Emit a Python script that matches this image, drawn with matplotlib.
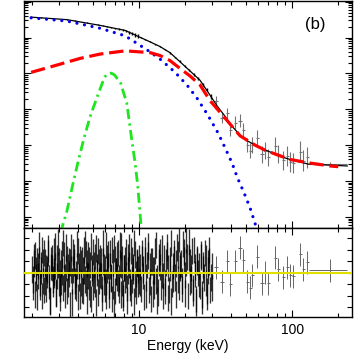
import numpy as np
import matplotlib
matplotlib.use("Agg")
import matplotlib.pyplot as plt
from matplotlib.ticker import LogLocator, NullFormatter, FixedLocator, FixedFormatter

plt.rcParams['font.family'] = ['Liberation Sans', 'DejaVu Sans']

# ---------------- model components (log10 of flux) ----------------
E_tot = [1.97, 3.38, 5.56, 8.1, 10.0, 11.8, 13.7, 15.9, 17.2, 19.0, 21.5, 25.0, 29.1,
         32.5, 36.5, 40.0, 45.7, 51.0, 57.3, 64.0, 71.8, 83.0, 97.0, 110, 128, 229]
L_tot = [-0.43, -0.50, -0.66, -0.80, -0.98, -1.12, -1.25, -1.42, -1.55, -1.72, -1.93, -2.19, -2.61,
         -2.92, -3.20, -3.45, -3.72, -3.88, -4.00, -4.10, -4.19, -4.31, -4.40, -4.46, -4.53, -4.58]

E_blue = [1.97, 3.38, 5.56, 8.1, 10.0, 11.8, 13.7, 15.9, 17.2, 20.6, 23.9, 28.2, 32.8, 36.5,
          40.5, 43.7, 48.5, 53.1, 57.3, 60.0]
L_blue = [-0.45, -0.54, -0.74, -0.95, -1.20, -1.40, -1.60, -1.84, -1.97, -2.33, -2.69, -3.17,
          -3.66, -4.08, -4.50, -4.89, -5.33, -5.75, -6.19, -6.50]

E_red = [1.97, 2.83, 4.12, 5.56, 8.1, 11.8, 13.7, 15.9, 18.5, 21.5, 25.0, 29.1, 36.5, 45.7,
         57.3, 66.5, 80.0, 97.0, 131, 177, 200]
L_red = [-1.97, -1.78, -1.58, -1.46, -1.37, -1.42, -1.50, -1.64, -1.86, -2.07, -2.32, -2.76,
         -3.25, -3.74, -4.00, -4.14, -4.27, -4.40, -4.50, -4.58, -4.60]

E_gau = [3.10, 3.15, 3.37, 3.66, 3.97, 4.33, 4.78, 5.42, 5.95, 6.2, 6.56, 6.9, 7.6, 7.89,
         8.31, 8.96, 9.42, 9.81, 10.26, 10.35]
L_gau = [-6.45, -6.27, -5.85, -5.16, -4.51, -3.86, -3.21, -2.56, -2.10, -2.02, -1.99, -2.04,
         -2.28, -2.52, -2.83, -3.86, -4.50, -5.16, -6.17, -6.45]

# ---------------- spectrum data, top panel ----------------
E_d1 = [2.0, 2.3, 2.6, 3.0, 3.4, 3.8, 4.2, 4.6, 5.0, 5.4, 5.8, 6.2, 6.6, 7.0, 7.4, 7.8,
        8.2, 8.6, 9.0, 9.4, 9.8]
L_d1 = [-0.43, -0.44, -0.46, -0.48, -0.50, -0.53, -0.56, -0.585, -0.62, -0.645, -0.675, -0.70,
        -0.715, -0.745, -0.755, -0.785, -0.805, -0.855, -0.885, -0.93, -0.955]
e_d1 = [0.006, 0.006, 0.006, 0.007, 0.007, 0.008, 0.008, 0.009, 0.01, 0.011, 0.012, 0.014,
        0.016, 0.018, 0.02, 0.024, 0.028, 0.034, 0.04, 0.05, 0.06]

E_d2 = [10.3, 11.0, 11.8, 12.7, 13.7, 14.8, 16.0, 17.2, 18.5, 19.8, 21.2, 22.7, 24.3, 26.0,
        27.8, 29.5]
L_d2 = [-0.99, -1.055, -1.115, -1.185, -1.245, -1.335, -1.425, -1.56, -1.66, -1.80, -1.90,
        -2.03, -2.13, -2.30, -2.45, -2.64]
e_d2 = [0.01, 0.01, 0.012, 0.012, 0.015, 0.015, 0.02, 0.02, 0.025, 0.025, 0.03, 0.035, 0.04,
        0.045, 0.05, 0.06]

E_sp = [31.8, 34.9, 37.6, 39.3, 42.4, 45.7, 47.9, 50.8, 53.1, 54.8, 59.1, 63.6, 66.6, 69.7,
        77.4, 81.0, 87.3, 92.7, 97.0, 101.6, 112.8, 118.0, 125.3, 177.0]
dE_lo = [0.8, 0.9, 0.9, 0.9, 1.0, 1.1, 1.1, 1.2, 1.2, 1.3, 1.4, 1.5, 1.5, 1.6, 1.8, 1.9, 2.0,
         2.2, 2.3, 2.4, 2.7, 2.8, 3.0, 49.0]
dE_hi = [0.8, 0.9, 0.9, 0.9, 1.0, 1.1, 1.1, 1.2, 1.2, 1.3, 1.4, 1.5, 1.5, 1.6, 1.8, 1.9, 2.0,
         2.2, 2.3, 2.4, 2.7, 2.8, 3.0, 52.0]
L_sp = [-2.76, -3.24, -3.11, -3.57, -3.37, -3.32, -3.58, -4.00, -4.15, -4.00, -3.79, -4.26,
        -4.15, -4.34, -4.02, -4.24, -4.42, -4.30, -4.46, -4.49, -4.18, -4.43, -4.34, -4.53]
e_sp = [0.12, 0.15, 0.15, 0.17, 0.17, 0.18, 0.2, 0.2, 0.22, 0.22, 0.22, 0.24, 0.24, 0.24,
        0.25, 0.25, 0.26, 0.28, 0.28, 0.28, 0.3, 0.3, 0.3, 0.05]
r_sp = [0.5, -0.8, 1.0, -1.0, 1.0, 2.2, 1.1, -0.8, -1.3, -0.2, 1.4, -0.9, 0.0, -0.9, 1.3, 0.3,
        -0.4, 0.5, -0.2, -0.3, 1.6, 0.3, 0.9, 0.2]

# ---------------- residuals of the dense channels (two data sets) ----------------
r_lo = [0.3, -1.2, 0.8, 1.5, -0.4, -2.1, 0.6, 1.1, -0.9, 0.2,
        2.0, -0.7, -1.5, 0.9, 0.4, -0.2, 1.7, -1.1, -2.4, 0.5,
        1.3, -0.6, 0.1, 2.3, -1.8, -0.3, 0.7, 1.0, -1.4, 0.0,
        -0.8, 1.6, 2.6, -0.5, -1.9, 0.4, 1.2, -1.0, -0.1, 0.9,
        2.2, -2.6, 0.3, 1.4, -0.7, -1.3, 0.6, 1.9, -0.4, -2.0,
        0.8, 1.1, -1.6, 0.2, 2.5, -0.9, -0.2, 1.5, -1.2, 0.7,
        -2.3, 0.4, 1.8, -0.6, -1.0, 2.1, 0.0, -1.7, 0.9, 1.3,
        -0.3, -2.2, 1.0, 0.5, -1.4, 2.4, -0.8, 0.3, 1.6, -1.9,
        0.6, -0.5, 2.0, -1.1, -2.7, 1.2, 0.1, -0.4, 1.7, -1.5,
        0.8, 2.3, -0.9, -1.8, 0.4, 1.1, -0.2, -2.4, 1.4, 0.7,
        -1.3, 1.9, -0.6, 0.2, 2.6, -1.0, -1.6, 0.9, 0.3, -0.7]
r_lo2 = [-0.6, 1.4, -1.9, 0.2, 1.0, -0.3, 2.4, -1.2, 0.7, -2.0,
         0.9, 1.7, -0.8, -1.4, 0.3, 2.1, -0.5, -2.5, 1.1, 0.4,
         -1.0, 1.9, -0.2, 0.6, -1.7, 1.3, 2.7, -0.9, -2.2, 0.8,
         0.1, -1.3, 1.5, -0.4, 2.2, -1.6, 0.5, 1.0, -2.8, 0.3,
         -0.7, 1.8, 0.9, -1.1, -0.1, 2.5, -2.1, 0.6, 1.2, -0.9,
         -1.5, 0.2, 2.0, -0.6, 1.6, -2.4, 0.8, -0.3, 1.1, -1.8,
         2.3, 0.0, -1.2, 0.7, 1.4, -2.6, 0.5, 1.9, -0.7, -0.2,
         1.0, -1.4, 2.6, -0.8, 0.3, -2.0, 1.3, 0.6, -1.1, 1.7,
         -0.4, -2.3, 0.9, 2.1, -1.6, 0.1, 1.5, -0.9, -0.5, 2.4,
         -1.9, 0.7, 1.2, -2.2, 0.4, -0.6, 1.8, -1.3, 0.2, 2.2,
         -0.8, -1.7, 1.1, 0.5, -2.5, 1.6, -0.1, 0.8, -1.0, 1.3]
r_hi = [0.5, -1.4, 1.2, -0.3, 2.0, -1.9, 0.7, 1.5, -0.8, -2.3,
        1.0, 0.2, -1.1, 2.4, -0.5, -1.7, 0.9, 1.8, -0.2, -2.0,
        1.3, -0.9, 2.2, 0.4, -1.5, 1.1, -2.5, 0.6, 1.7, -0.4,
        0.8, 1.6, -1.2, 0.4, 0.8, -0.7, 1.1, -1.8, 2.9, 1.4,
        2.7, 0.9, -0.6, 1.9, -1.3, 0.5, -2.6, 1.2, 0.0, -1.0,
        1.6, -1.9, 0.7, -0.4, 1.3, -2.1, 0.2, 1.0, -1.5, 0.6]
r_hi2 = [-0.9, 1.7, 0.3, -2.1, 1.1, -0.4, 2.3, -1.5, 0.6, 1.0,
         -1.8, 0.2, 1.9, -0.7, -2.4, 1.4, 0.5, -1.2, 2.1, -0.3,
         -1.6, 0.9, 1.5, -2.2, 0.4, 2.6, -1.0, -0.5, 1.2, -1.9,
         2.2, -0.6, 3.0, 0.7, -1.4, 2.5, 1.8, -0.2, 0.9, -2.0,
         1.3, -0.8, 0.4, -1.7, 2.0, -0.1, -2.3, 1.0, 0.6, -1.1,
         1.4, -2.4, 0.3, 1.7, -0.9, -1.6, 0.8, 2.0, -0.4, -1.3]
# channel grids of the instruments (keV)
E_lo = np.geomspace(2.0, 9.95, len(r_lo))
E_lo2 = np.geomspace(2.03, 9.98, len(r_lo2))
E_hi = np.geomspace(10.1, 29.8, len(r_hi))
E_hi2 = np.geomspace(10.2, 29.9, len(r_hi2))

# ---------------- figure ----------------
fig = plt.figure(figsize=(3.55, 3.54), dpi=100)
L, R = 24 / 355, 352 / 355
ax1 = fig.add_axes([L, 1 - 228 / 354, R - L, (228 - 1) / 354])
ax2 = fig.add_axes([L, 1 - 317 / 354, R - L, (317 - 228) / 354], sharex=ax1)

p = lambda a: 10 ** np.asarray(a, dtype=float)

# data (top)
for E, Lv, ev in [(E_d1, L_d1, e_d1), (E_d2, L_d2, e_d2)]:
    Lv = np.asarray(Lv); ev = np.asarray(ev)
    y = p(Lv)
    ax1.errorbar(E, y, yerr=[y - p(Lv - ev), p(Lv + ev) - y], fmt='none',
                 ecolor='black', elinewidth=1.0, zorder=3)
Ls = np.asarray(L_sp); es = np.asarray(e_sp); ys = p(Ls)
ax1.errorbar(E_sp, ys, xerr=[dE_lo, dE_hi], yerr=[ys - p(Ls - es), p(Ls + es) - ys],
             fmt='none', ecolor='0.45', elinewidth=0.8, zorder=3)

# model curves
ax1.plot(E_tot, p(L_tot), color='black', lw=0.9, zorder=4)
ax1.plot(E_blue, p(L_blue), color='#0000ee', lw=2.3, linestyle=(0, (0.01, 2.4)),
         dash_capstyle='round', zorder=5)
ax1.plot(E_red, p(L_red), color='#ff0000', lw=2.3, linestyle=(0, (4.5, 1.8)), zorder=5)
ax1.plot(E_gau, p(L_gau), color='#1ee61e', lw=2.0, linestyle=(0, (3.6, 1.6, 0.8, 1.6)), zorder=5)

ax1.set_xscale('log')
ax1.set_yscale('log')
ax1.set_xlim(1.77, 246)
ax1.set_ylim(10 ** -6.31, 10 ** 0.02)
ax1.yaxis.set_major_locator(LogLocator(base=10, numticks=20))
ax1.yaxis.set_minor_locator(LogLocator(base=10, subs=np.arange(2, 10), numticks=20))
ax1.yaxis.set_major_formatter(NullFormatter())
ax1.yaxis.set_minor_formatter(NullFormatter())
ax1.text(0.887, 0.895, '(b)', transform=ax1.transAxes, fontsize=12,
         ha='center', va='center')
plt.setp(ax1.get_xticklabels(which='both'), visible=False)

# residuals
for E, r in [(E_lo, r_lo), (E_lo2, r_lo2), (E_hi, r_hi), (E_hi2, r_hi2)]:
    ax2.errorbar(E, r, yerr=1.15, fmt='none', ecolor='black', elinewidth=0.95,
                 alpha=0.8, zorder=3)
ax2.errorbar(E_sp, r_sp, xerr=[dE_lo, dE_hi], yerr=1.0, fmt='none', ecolor='0.4',
             elinewidth=0.7, zorder=3)
ax2.axhline(0, color='#e0e000', lw=1.5, zorder=4)
ax2.set_ylim(-3.85, 3.9)
ax2.set_yticks([-3, -2, -1, 0, 1, 2, 3])
ax2.set_yticklabels([])
ax2.xaxis.set_major_locator(FixedLocator([10, 100]))
ax2.xaxis.set_major_formatter(FixedFormatter(['10', '100']))
ax2.xaxis.set_minor_locator(LogLocator(base=10, subs=np.arange(2, 10), numticks=20))
ax2.xaxis.set_minor_formatter(NullFormatter())
ax2.set_xlabel('Energy (keV)', fontsize=10, labelpad=2)

for ax in (ax1, ax2):
    ax.tick_params(which='both', direction='in', top=True, right=True, width=0.8,
                   labelsize=10, pad=4)
    ax.tick_params(which='major', length=5)
    ax.tick_params(which='minor', length=2.8)
    for s in ax.spines.values():
        s.set_linewidth(1.0)
ax2.tick_params(axis='y', which='major', length=3.5)

fig.savefig('out.png', dpi=100)
